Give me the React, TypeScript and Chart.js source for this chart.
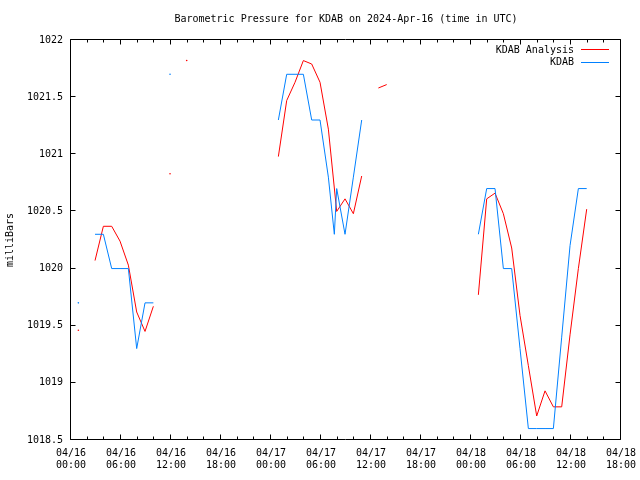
import React, { useEffect, useRef } from "react";
import { Chart, registerables } from "chart.js";

Chart.register(...registerables);

const TITLE = "Barometric Pressure for KDAB on 2024-Apr-16 (time in UTC)";
const Y_TITLE = "milliBars";
const SERIES_NAMES = ["KDAB Analysis", "KDAB"];
const SERIES_COLORS = ["#ff0000", "#0080ff"];

// x axis: hours since 04/16 00:00
const X_MIN = 0;
const X_MAX = 66;
const X_TICK_HOURS = [0, 6, 12, 18, 24, 30, 36, 42, 48, 54, 60, 66];
const X_TICK_LABELS = [
  ["04/16", "00:00"], ["04/16", "06:00"], ["04/16", "12:00"], ["04/16", "18:00"],
  ["04/17", "00:00"], ["04/17", "06:00"], ["04/17", "12:00"], ["04/17", "18:00"],
  ["04/18", "00:00"], ["04/18", "06:00"], ["04/18", "12:00"], ["04/18", "18:00"],
];
const X_MINOR_HOURS = [2, 4, 8, 10, 14, 16, 20, 22, 26, 28, 32, 34, 38, 40, 44, 46, 50, 52, 56, 58, 62, 64];

const Y_MIN = 1018.5;
const Y_MAX = 1022;
const Y_TICKS = [1018.5, 1019, 1019.5, 1020, 1020.5, 1021, 1021.5, 1022];

// KDAB Analysis (hourly)
const ANL_TIME = [
  "04/16 00:53", "04/16 01:53", "04/16 02:53", "04/16 03:53", "04/16 04:53", "04/16 05:53",
  "04/16 06:53", "04/16 07:53", "04/16 08:53", "04/16 09:53", "04/16 10:53", "04/16 11:53",
  "04/16 12:53", "04/16 13:53", "04/16 14:53", "04/16 15:53", "04/16 16:53", "04/16 17:53",
  "04/16 18:53", "04/16 19:53", "04/16 20:53", "04/16 21:53", "04/16 22:53", "04/16 23:53",
  "04/17 00:53", "04/17 01:53", "04/17 02:53", "04/17 03:53", "04/17 04:53", "04/17 05:53",
  "04/17 06:53", "04/17 07:53", "04/17 08:53", "04/17 09:53", "04/17 10:53", "04/17 11:53",
  "04/17 12:53", "04/17 13:53", "04/17 14:53", "04/17 15:53", "04/17 16:53", "04/17 17:53",
  "04/17 18:53", "04/17 19:53", "04/17 20:53", "04/17 21:53", "04/17 22:53", "04/17 23:53",
  "04/18 00:53", "04/18 01:53", "04/18 02:53", "04/18 03:53", "04/18 04:53", "04/18 05:53",
  "04/18 06:53", "04/18 07:53", "04/18 08:53", "04/18 09:53", "04/18 10:53", "04/18 11:53",
  "04/18 12:53", "04/18 13:53",
];
const ANL_MB = [
  1019.46, null, 1020.07, 1020.37, 1020.37, 1020.24,
  1020.03, 1019.62, 1019.45, 1019.67, null, 1020.83,
  null, 1021.82, null, null, null, null,
  null, null, null, null, null, null,
  1020.98, 1021.47, 1021.63, 1021.82, 1021.79, 1021.63,
  1021.22, 1020.50, 1020.61, 1020.48, 1020.81, null,
  1021.58, 1021.61, null, null, null, null,
  null, null, null, null, null, null,
  1019.77, 1020.61, 1020.66, 1020.48, 1020.18, 1019.59,
  1019.15, 1018.71, 1018.93, 1018.79, 1018.79, 1019.42,
  1020.00, 1020.52,
];

// KDAB observations (hourly + one special)
const OBS_TIME = [
  "04/16 00:53", "04/16 01:53", "04/16 02:53", "04/16 03:53", "04/16 04:53", "04/16 05:53",
  "04/16 06:53", "04/16 07:53", "04/16 08:53", "04/16 09:53", "04/16 10:53", "04/16 11:53",
  "04/16 12:53", "04/16 13:53", "04/16 14:53", "04/16 15:53", "04/16 16:53", "04/16 17:53",
  "04/16 18:53", "04/16 19:53", "04/16 20:53", "04/16 21:53", "04/16 22:53", "04/16 23:53",
  "04/17 00:53", "04/17 01:53", "04/17 02:53", "04/17 03:53", "04/17 04:53", "04/17 05:53",
  "04/17 06:53", "04/17 07:36", "04/17 07:53", "04/17 08:53", "04/17 09:53", "04/17 10:53",
  "04/17 11:53", "04/17 12:53", "04/17 13:53", "04/17 14:53", "04/17 15:53", "04/17 16:53",
  "04/17 17:53", "04/17 18:53", "04/17 19:53", "04/17 20:53", "04/17 21:53", "04/17 22:53",
  "04/17 23:53",
  "04/18 00:53", "04/18 01:53", "04/18 02:53", "04/18 03:53", "04/18 04:53", "04/18 05:53",
  "04/18 06:53", "04/18 07:53", "04/18 08:53", "04/18 09:53", "04/18 10:53", "04/18 11:53",
  "04/18 12:53", "04/18 13:53",
];
const OBS_MB = [
  1019.7, null, 1020.3, 1020.3, 1020.0, 1020.0,
  1020.0, 1019.3, 1019.7, 1019.7, null, 1021.7,
  null, null, null, null, null, null,
  null, null, null, null, null, null,
  1021.3, 1021.7, 1021.7, 1021.7, 1021.3, 1021.3,
  1020.8, 1020.3, 1020.7, 1020.3, 1020.8, 1021.3,
  null, null, null, null, null, null,
  null, null, null, null, null, null,
  null,
  1020.3, 1020.7, 1020.7, 1020.0, 1020.0, 1019.3,
  1018.6, 1018.6, 1018.6, 1018.6, 1019.4, 1020.2,
  1020.7, 1020.7,
];

const FONT_FAMILY = "'DejaVu Sans Mono', 'Liberation Mono', monospace";
const FONT_SIZE = 10;

function toHours(s: string): number {
  const [date, time] = s.split(" ");
  const day = parseInt(date.split("/")[1], 10) - 16;
  const [hh, mm] = time.split(":").map((t) => parseInt(t, 10));
  return day * 24 + hh + mm / 60;
}

function toPoints(times: string[], vals: (number | null)[]) {
  return times.map((t, i) => ({ x: toHours(t), y: vals[i] }));
}

function isolatedRadius(ctx: any): number {
  const d = ctx.dataset.data as { x: number; y: number | null }[];
  const i = ctx.dataIndex;
  const cur = d[i];
  if (!cur || cur.y == null) return 0;
  const hasPrev = i > 0 && d[i - 1] && d[i - 1].y != null;
  const hasNext = i < d.length - 1 && d[i + 1] && d[i + 1].y != null;
  return hasPrev || hasNext ? 0 : 0.8;
}

const crisp = (v: number) => Math.round(v) - 0.5;

const framePlugin = {
  id: "gnuFrame",
  afterDatasetsDraw(chart: any) {
    const { ctx, chartArea: a, scales } = chart;
    const xs = scales.x;
    const ys = scales.y;
    const L = crisp(a.left);
    const R = crisp(a.right);
    const T = crisp(a.top);
    const B = crisp(a.bottom);
    ctx.save();
    ctx.strokeStyle = "#000";
    ctx.lineWidth = 1;
    ctx.beginPath();
    ctx.rect(L, T, R - L, B - T);
    const MAJ = 5;
    const MIN = 3;
    const xTick = (h: number, len: number) => {
      const px = crisp(xs.getPixelForValue(h));
      ctx.moveTo(px, B);
      ctx.lineTo(px, B - len);
      ctx.moveTo(px, T);
      ctx.lineTo(px, T + len);
    };
    X_TICK_HOURS.forEach((h) => xTick(h, MAJ));
    X_MINOR_HOURS.forEach((h) => xTick(h, MIN));
    Y_TICKS.forEach((v) => {
      const py = crisp(ys.getPixelForValue(v));
      ctx.moveTo(L, py);
      ctx.lineTo(L + MAJ, py);
      ctx.moveTo(R, py);
      ctx.lineTo(R - MAJ, py);
    });
    ctx.stroke();

    // legend (top right, inside plot)
    ctx.font = `${FONT_SIZE}px ${FONT_FAMILY}`;
    ctx.textAlign = "right";
    ctx.textBaseline = "middle";
    ctx.fillStyle = "#000";
    SERIES_NAMES.forEach((name, i) => {
      const y = a.top + 10 + i * 12.5;
      ctx.fillText(name, a.right - 47, y);
      ctx.beginPath();
      ctx.strokeStyle = SERIES_COLORS[i];
      ctx.moveTo(a.right - 40, crisp(y));
      ctx.lineTo(a.right - 12, crisp(y));
      ctx.stroke();
    });
    ctx.restore();
  },
};

export default function App() {
  const ref = useRef<HTMLCanvasElement>(null);
  useEffect(() => {
    if (!ref.current) return;
    const font = { family: FONT_FAMILY, size: FONT_SIZE, weight: "normal" as const };
    const chart = new Chart(ref.current, {
      type: "line",
      data: {
        datasets: [
          {
            label: SERIES_NAMES[0],
            data: toPoints(ANL_TIME, ANL_MB) as any,
            borderColor: SERIES_COLORS[0],
            backgroundColor: SERIES_COLORS[0],
            borderWidth: 1,
            pointRadius: isolatedRadius as any,
            pointBorderWidth: 0,
            pointBackgroundColor: SERIES_COLORS[0],
            spanGaps: false,
            tension: 0,
            fill: false,
            order: 1,
          },
          {
            label: SERIES_NAMES[1],
            data: toPoints(OBS_TIME, OBS_MB) as any,
            borderColor: SERIES_COLORS[1],
            backgroundColor: SERIES_COLORS[1],
            borderWidth: 1,
            pointRadius: isolatedRadius as any,
            pointBorderWidth: 0,
            pointBackgroundColor: SERIES_COLORS[1],
            spanGaps: false,
            tension: 0,
            fill: false,
            order: 0,
          },
        ],
      },
      options: {
        responsive: false,
        animation: false,
        devicePixelRatio: 1,
        events: [],
        layout: { padding: { left: 0, right: 19, top: 0, bottom: 0 } },
        plugins: {
          legend: { display: false },
          tooltip: { enabled: false },
          title: {
            display: true,
            text: TITLE,
            color: "#000",
            font,
            fullSize: false,
            padding: { top: 13, bottom: 15 },
          },
        },
        scales: {
          x: {
            type: "linear",
            min: X_MIN,
            max: X_MAX,
            afterBuildTicks: (s: any) => {
              s.ticks = X_TICK_HOURS.map((v) => ({ value: v }));
            },
            afterFit: (s: any) => {
              s.height = 40;
              s.paddingLeft = 0;
              s.paddingRight = 0;
            },
            ticks: {
              autoSkip: false,
              maxRotation: 0,
              minRotation: 0,
              padding: 7,
              color: "#000",
              font,
              callback: (_v: any, i: number) => X_TICK_LABELS[i],
            },
            grid: { display: false, drawTicks: false },
            border: { display: false },
          },
          y: {
            type: "linear",
            min: Y_MIN,
            max: Y_MAX,
            afterBuildTicks: (s: any) => {
              s.ticks = Y_TICKS.map((v) => ({ value: v }));
            },
            afterFit: (s: any) => {
              s.width = 71;
              s.paddingTop = 0;
              s.paddingBottom = 0;
            },
            ticks: {
              padding: 8,
              color: "#000",
              font,
              callback: (v: any) => String(v),
            },
            grid: { display: false, drawTicks: false },
            border: { display: false },
            title: {
              display: true,
              text: Y_TITLE,
              color: "#000",
              font,
              padding: { top: 4, bottom: 0 },
            },
          },
        },
      },
      plugins: [framePlugin],
    } as any);
    return () => chart.destroy();
  }, []);
  return (
    <div style={{ position: "fixed", left: 0, top: 0, width: 640, height: 480, background: "#fff" }}>
      <canvas ref={ref} width={640} height={480} style={{ display: "block" }} />
    </div>
  );
}
